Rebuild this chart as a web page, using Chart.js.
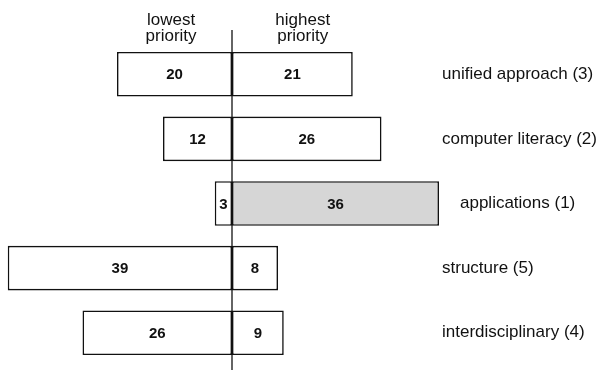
<!DOCTYPE html>
<html>
<head>
<meta charset="utf-8">
<script src="https://cdn.jsdelivr.net/npm/chart.js@4/dist/chart.umd.min.js"></script>
<style>
  html, body { margin: 0; padding: 0; background: #fff; }
  #wrap { width: 605px; height: 370px; }
</style>
</head>
<body>
<div id="wrap"><canvas id="chart" width="605" height="370"></canvas></div>
<script>
// categories, top to bottom
const categories = [
    'unified approach (3)',
    'computer literacy (2)',
    'applications (1)',
    'structure (5)',
    'interdisciplinary (4)',
];
const lowestPriority = [20, 12, 3, 39, 26];
const highestPriority = [21, 26, 36, 8, 9];
const headerLeft = ['lowest', 'priority'];
const headerRight = ['highest', 'priority'];

const FONT = '"Liberation Sans", Arial, Helvetica, sans-serif';
const INK = '#111';

// value labels inside each segment + category names to the right
const labelsPlugin = {
    id: 'labels',
    afterDatasetsDraw(chart) {
        const ctx = chart.ctx;
        const area = chart.chartArea;
        const xScale = chart.scales.x;
        const zero = xScale.getPixelForValue(0);

        ctx.save();
        ctx.textBaseline = 'middle';
        ctx.textAlign = 'center';
        ctx.fillStyle = INK;
        ctx.font = 'bold 15px ' + FONT;
        chart.data.datasets.forEach((ds, di) => {
            const meta = chart.getDatasetMeta(di);
            meta.data.forEach((bar, i) => {
                const cx = (bar.x + bar.base) / 2;
                ctx.fillText(String(Math.abs(ds.data[i])), cx, bar.y + 1);
            });
        });

        // center divider
        ctx.strokeStyle = INK;
        ctx.lineWidth = 1.3;
        ctx.beginPath();
        ctx.moveTo(zero, 30);
        ctx.lineTo(zero, chart.height);
        ctx.stroke();

        // header
        ctx.font = '17px ' + FONT;
        const leftX = xScale.getPixelForValue(-10.6);
        const rightX = xScale.getPixelForValue(12.3);
        headerLeft.forEach((t, i) => ctx.fillText(t, leftX, 20 + i * 16));
        headerRight.forEach((t, i) => ctx.fillText(t, rightX, 20 + i * 16));

        // category names
        ctx.textAlign = 'left';
        const hiMeta = chart.getDatasetMeta(1);
        categories.forEach((name, i) => {
            const bar = hiMeta.data[i];
            const x = Math.max(area.right + 3, bar.x + 21);
            ctx.fillText(name, x, bar.y);
        });
        ctx.restore();
    },
};

new Chart(document.getElementById('chart'), {
    type: 'bar',
    data: {
        labels: categories,
        datasets: [
            {
                label: 'lowest priority',
                data: lowestPriority.map((v) => -v),
                backgroundColor: '#fff',
                borderColor: INK,
                borderWidth: 1.6,
                borderSkipped: false,
            },
            {
                label: 'highest priority',
                data: highestPriority,
                backgroundColor: categories.map((c, i) => (i === 2 ? '#d6d6d6' : '#fff')),
                borderColor: INK,
                borderWidth: 1.6,
                borderSkipped: false,
            },
        ],
    },
    options: {
        indexAxis: 'y',
        responsive: false,
        animation: false,
        layout: { padding: { left: 2, right: 166, top: 42, bottom: 5 } },
        datasets: { bar: { barPercentage: 0.69, categoryPercentage: 1 } },
        plugins: { legend: { display: false }, tooltip: { enabled: false } },
        scales: {
            x: { stacked: true, min: -40, max: 36, display: false },
            y: { stacked: true, display: false },
        },
    },
    plugins: [labelsPlugin],
});
</script>
</body>
</html>
